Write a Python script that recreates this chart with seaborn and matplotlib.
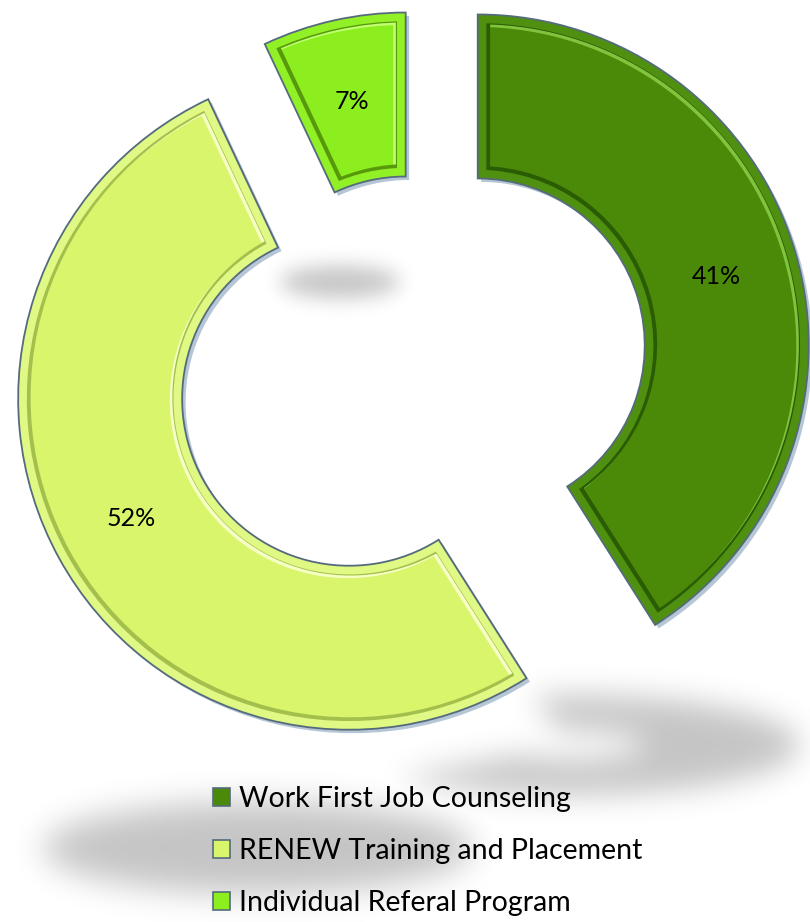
import numpy as np
import matplotlib
matplotlib.use("Agg")
import matplotlib.pyplot as plt
import matplotlib.patches as mpatches
import matplotlib.patheffects as pe
from matplotlib.transforms import Affine2D
import seaborn as sns

# --- data -------------------------------------------------------------
programs = ["Work First Job Counseling",
            "RENEW Training and Placement",
            "Individual Referal Program"]
shares = [41, 52, 7]

# --- style ------------------------------------------------------------
fills = ["#4b8a08", "#d8f56c", "#8cee1e"]
bevel_bands = ["#4f9010", "#e0f884", "#92f026"]
bevel_light = ["#80c43e", "#f6ffc4", "#c0ff70"]
bevel_dark = ["#2a5c04", "#a3bf4c", "#569a0c"]
rim = "#556b7c"

sns.set_theme(style="white")
plt.rcParams["font.family"] = ["Lato", "DejaVu Sans"]
plt.rcParams["text.color"] = "black"

W_PX, H_PX = 810, 922
fig = plt.figure(figsize=(W_PX / 100, H_PX / 100), dpi=100)
fig.patch.set_facecolor("white")
ax = fig.add_axes([0, 0, 1, 1])

# --- soft floor shadows beneath the ring ------------------------------
yy, xx = np.mgrid[0:H_PX, 0:W_PX] + 0.5


def ellipse(cx, cy, a, b):
    return (((xx - cx) / a) ** 2 + ((yy - cy) / b) ** 2 <= 1).astype(float)


def ring_arc(cx, cy, ao, bo, ai, bi, t_hi, t_lo):
    u, v = xx - cx, cy - yy
    outer = (u / ao) ** 2 + (v / bo) ** 2 <= 1
    inner = (u / ai) ** 2 + (v / bi) ** 2 >= 1
    ang = np.degrees(np.arctan2(v / bo, u / ao))
    return (outer & inner & (ang <= t_hi) & (ang >= t_lo)).astype(float)


def blur(img, sigma):
    k = np.arange(-3 * sigma, 3 * sigma + 1)
    g = np.exp(-0.5 * (k / sigma) ** 2)
    g /= g.sum()
    img = np.apply_along_axis(lambda r: np.convolve(r, g, mode="same"), 1, img)
    img = np.apply_along_axis(lambda c: np.convolve(c, g, mode="same"), 0, img)
    return img


shade = np.zeros((H_PX, W_PX))
shade = np.maximum(shade, blur(ellipse(340, 282, 60, 16), 10))
shade = np.maximum(shade, blur(ring_arc(572, 745, 228, 50, 72, 14, 100, -140), 15))
shade = np.maximum(shade, blur(ellipse(258, 848, 215, 46), 16))
rgba = np.zeros((H_PX, W_PX, 4))
rgba[..., 3] = np.clip(shade, 0, 1) * 0.23
ax.imshow(rgba, extent=(0, W_PX, 0, H_PX), origin="upper", zorder=0,
          interpolation="bilinear")

# --- exploded doughnut --------------------------------------------------
R, ring_w = 331, 164
centre = (410.5, H_PX - 365)
explode = [70, 70, 22]

wedges, _, pct_texts = ax.pie(
    shares, explode=explode, radius=R, center=centre,
    startangle=90, counterclock=False, colors=fills,
    autopct="%1.0f%%", pctdistance=0.75,
    wedgeprops=dict(width=ring_w, edgecolor="none", linewidth=0),
    textprops=dict(fontsize=18, color="black", family=["Lato", "DejaVu Sans"]),
    frame=True,
)


def inner_stroke(w, color, lw, dx=0.0, dy=0.0):
    """Stroke of the wedge outline kept inside the wedge (bevel layer)."""
    tr = w.get_transform() + Affine2D().translate(dx, dy)
    p = mpatches.PathPatch(w.get_path(), transform=tr, facecolor="none",
                           edgecolor=color, linewidth=lw, zorder=2.1)
    ax.add_patch(p)
    p.set_clip_path(w)


for w, band, lite, dark in zip(wedges, bevel_bands, bevel_light, bevel_dark):
    w.set_zorder(2)
    w.set_path_effects([pe.SimplePatchShadow(offset=(2.5, -2.5),
                                             shadow_rgbFace="#9db3c9",
                                             alpha=0.75),
                        pe.Normal()])
    # embossed groove: light on the lit sides, dark on the shaded sides
    inner_stroke(w, lite, 16, -1.3, -1.3)
    inner_stroke(w, dark, 16, 1.3, 1.3)
    inner_stroke(w, band, 12.5)
    ax.add_patch(mpatches.PathPatch(w.get_path(), transform=w.get_transform(),
                                    facecolor="none", edgecolor=rim,
                                    linewidth=1.3, zorder=2.2))

for t in pct_texts:
    t.set_zorder(3)

# --- legend -------------------------------------------------------------
handles = [mpatches.Patch(facecolor=f, edgecolor=rim, linewidth=1.2)
           for f in fills]
leg = ax.legend(handles, programs, loc="upper left",
                bbox_to_anchor=(213 / W_PX, (H_PX - 786) / H_PX),
                bbox_transform=fig.transFigure, frameon=False,
                prop=dict(family=["Lato", "DejaVu Sans"], size=20.5),
                labelcolor="black",
                handlelength=0.6, handleheight=0.6, handletextpad=0.3,
                labelspacing=0.92, borderpad=0, borderaxespad=0)
leg.set_zorder(4)

ax.set_xlim(0, W_PX)
ax.set_ylim(0, H_PX)
ax.set_aspect("equal")
ax.axis("off")

fig.savefig("out.png", dpi=100, facecolor="white")
